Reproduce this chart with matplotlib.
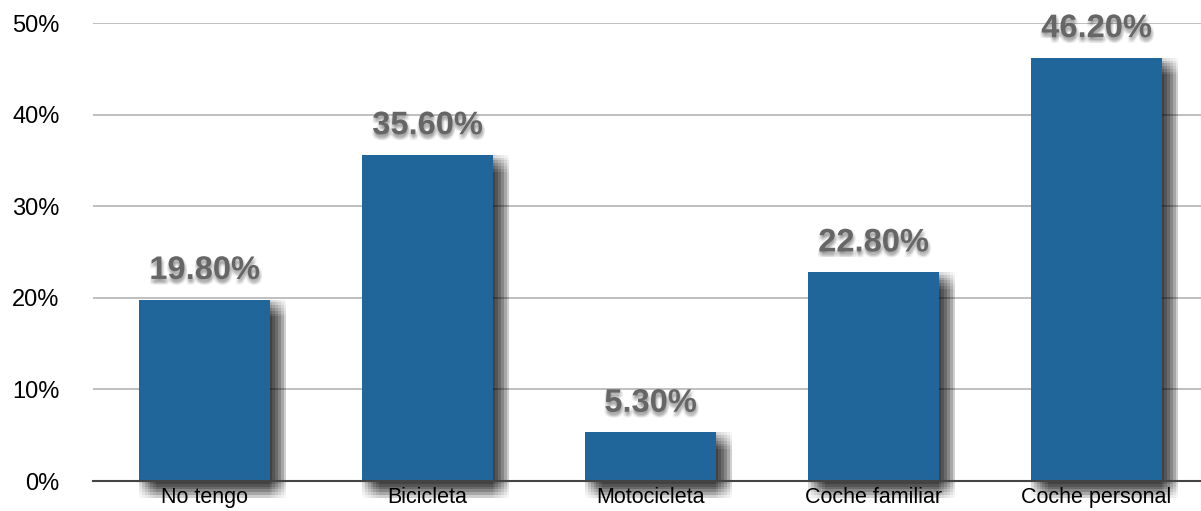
import matplotlib
matplotlib.use("Agg")
import matplotlib.pyplot as plt
import matplotlib.patheffects as pe
from matplotlib.ticker import FuncFormatter

categories = ["No tengo", "Bicicleta", "Motocicleta", "Coche familiar", "Coche personal"]
values = [19.8, 35.6, 5.3, 22.8, 46.2]
yticks = [0, 10, 20, 30, 40, 50]

plt.rcParams['font.family'] = ['Liberation Sans', 'DejaVu Sans']

fig = plt.figure(figsize=(12.01, 5.11), dpi=100)
ax = fig.add_axes([93 / 1201, 30 / 511, 1115 / 1201, 458 / 511])

# soft drop shadow: many faint offset copies make a box blur
bar_fx = [pe.SimplePatchShadow(offset=(dx, -dy), shadow_rgbFace='k', alpha=0.026)
          for dx in range(0, 13, 2) for dy in range(0, 13, 2)]
bar_fx += [pe.Normal()]

bars = ax.bar(range(len(categories)), values, width=0.584, color='#20669a',
              zorder=2, clip_on=False)
for b in bars:
    b.set_path_effects(bar_fx)

txt_fx = [pe.SimplePatchShadow(offset=(dx, -dy), shadow_rgbFace='k', alpha=0.03)
          for dx in (-1, 0, 1, 2) for dy in (1, 2, 3, 4)]
txt_fx += [pe.Normal()]
for i, v in enumerate(values):
    ax.annotate(f"{v:.2f}%", (i, v), xytext=(0, 21), textcoords='offset points',
                ha='center', va='center', fontsize=23.5, fontweight='bold',
                color='#666666', zorder=3, path_effects=txt_fx)

ax.set_xlim(-0.5, len(categories) - 0.5)
ax.set_ylim(0, 50)
ax.set_yticks(yticks)
ax.yaxis.set_major_formatter(FuncFormatter(lambda y, _: f"{y:.0f}%"))
ax.set_xticks(range(len(categories)))
ax.set_xticklabels(categories)
ax.tick_params(axis='y', length=0, pad=24, labelsize=17)
ax.tick_params(axis='x', length=0, pad=4, labelsize=15.5)

ax.set_axisbelow(True)
ax.yaxis.grid(True, color='#b4b4b4', linewidth=1.2)
for s in ('left', 'right', 'top'):
    ax.spines[s].set_visible(False)
ax.spines['bottom'].set_color('#444444')
ax.spines['bottom'].set_linewidth(1.5)
ax.spines['bottom'].set_zorder(4)

fig.savefig("out.png", dpi=100)
